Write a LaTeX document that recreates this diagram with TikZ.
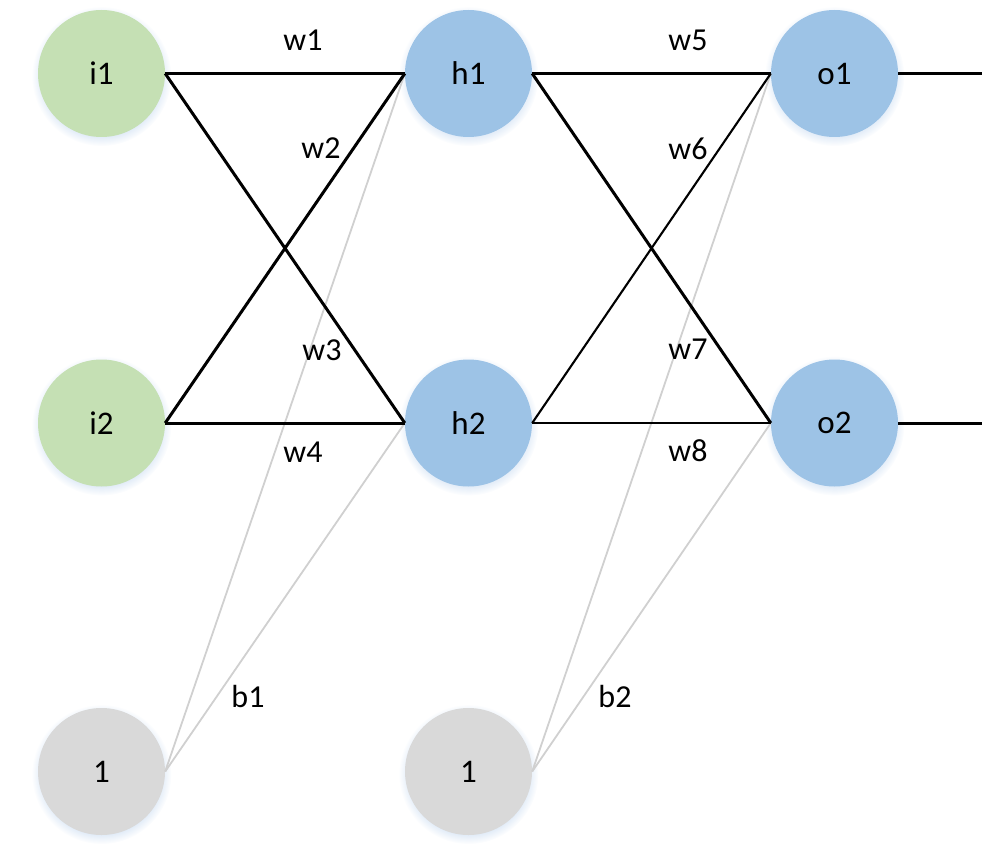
\documentclass[tikz,border=0pt]{standalone}
\usepackage{fontspec}
\setmainfont{Carlito}
\usetikzlibrary{shadows}
\definecolor{ingreen}{HTML}{C5E0B4}
\definecolor{hidblue}{HTML}{9DC3E6}
\definecolor{biasgray}{HTML}{D9D9D9}
\definecolor{biasline}{HTML}{D0D0D0}
\definecolor{glow}{HTML}{DCE8F6}
\begin{document}
\begin{tikzpicture}[x=1pt,y=-1pt,
  neuron/.style={circle,minimum size=127pt,inner sep=0pt,
    font=\fontsize{33}{39}\selectfont,
    circular drop shadow={shadow xshift=0pt,shadow yshift=-2.5pt,fill=glow,opacity=0.9}},
  inp/.style={neuron,fill=ingreen},
  hid/.style={neuron,fill=hidblue},
  bia/.style={neuron,fill=biasgray},
  conn/.style={line width=3pt,black},
  connthin/.style={line width=2.1pt,black},
  biasconn/.style={line width=1.8pt,biasline},
  lbl/.style={font=\fontsize{32}{38}\selectfont,inner sep=0pt}]
\useasboundingbox (0,0) rectangle (1008,845);
% nodes
\node[inp] (i1) at (101.5,73.5) {i1};
\node[inp] (i2) at (101.5,423) {i2};
\node[hid] (h1) at (468.5,73.5) {h1};
\node[hid] (h2) at (468.5,423) {h2};
\node[hid] (o1) at (834.5,73.5) {o1};
\node[hid] (o2) at (834.5,423) {o2};
\node[bia] (b1n) at (101.5,771.5) {1};
\node[bia] (b2n) at (468.5,771.5) {1};
\coordinate (out1) at (982,73.5);
\coordinate (out2) at (982,423);
% bias connections
\draw[biasconn] (b1n.east) -- (h1.west);
\draw[biasconn] (b1n.east) -- (h2.west);
\draw[biasconn] (b2n.east) -- (o1.west);
\draw[biasconn] (b2n.east) -- (o2.west);
% weight connections
\draw[conn] (i1.east) -- (h1.west);
\draw[conn] (i1.east) -- (h2.west);
\draw[conn] (i2.east) -- (h1.west);
\draw[conn] (i2.east) -- (h2.west);
\draw[conn] (h1.east) -- (o1.west);
\draw[conn] (h1.east) -- (o2.west);
\draw[connthin] (h2.east) -- (o1.west);
\draw[connthin] (h2.east) -- (o2.west);
\draw[conn] (o1.east) -- (out1);
\draw[conn] (o2.east) -- (out2);
% labels
\node[lbl] (lw1) at (303,40) {w1};
\node[lbl] (lw2) at (321,148) {w2};
\node[lbl] (lw3) at (322,350) {w3};
\node[lbl] (lw4) at (303,452) {w4};
\node[lbl] (lw5) at (688,40) {w5};
\node[lbl] (lw6) at (688,149) {w6};
\node[lbl] (lw7) at (688,349) {w7};
\node[lbl] (lw8) at (688,451) {w8};
\node[lbl] (lb1) at (248,696) {b1};
\node[lbl] (lb2) at (615,696) {b2};
\end{tikzpicture}
\end{document}
